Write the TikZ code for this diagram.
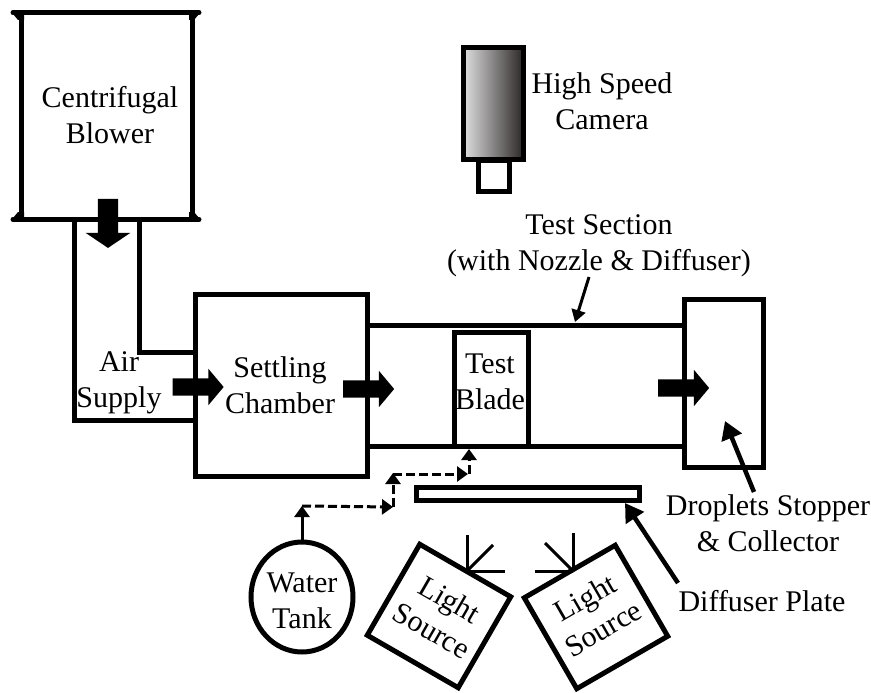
\documentclass[tikz,border=0pt]{standalone}
\usepackage{fontspec}
\setmainfont{Liberation Serif}
\usepackage{xcolor}
\definecolor{Col1}{RGB}{0,0,0}
\definecolor{Col2}{RGB}{225,225,225}
\definecolor{Col3}{RGB}{45,40,40}
\usetikzlibrary{shapes}
\usetikzlibrary{shapes.arrows}
\usetikzlibrary{arrows.meta}
\tikzstyle{Box}=[rectangle,draw=Col1,line width=5pt,outer sep=0pt,inner sep=0pt]
\tikzstyle{Lamp}=[Box,minimum width=105pt,minimum height=105pt]
\tikzstyle{Edge}=[draw=Col1,line width=5pt,line cap=round,line join=miter]
\tikzstyle{Flow}=[draw=Col1,line width=3pt,dash pattern=on 9pt off 4pt,
-{Triangle[length=11pt,width=15pt]}]
\tikzstyle{Feed}=[draw=Col1,line width=3pt,-{Triangle[length=11pt,width=15pt]}]
\tikzstyle{Ray}=[draw=Col1,line width=3pt]
\tikzstyle{Pointer}=[draw=Col1,line width=4.5pt,-{Triangle[length=18pt,width=21pt]}]
\tikzstyle{Block}=[single arrow,fill=Col1,inner xsep=0pt,inner ysep=8.5pt,outer sep=0pt,
single arrow head extend=9.5pt,single arrow tip angle=100,minimum width=36pt,minimum height=51pt]
\tikzstyle{NodeST}=[font=\fontsize{30}{36}\selectfont,align=center,inner sep=0pt,text=Col1]

\begin{document}
\begin{tikzpicture}[x=1pt,y=1pt]
        \useasboundingbox(0,0)rectangle(871,-693);
        \node[Box,minimum width=171pt,minimum height=207pt](Blower)at(106.5,-116){};
        \node[Box,minimum width=172pt,minimum height=182pt](Chamber)at(281,-385.5){};
        \node[Box,minimum width=74pt,minimum height=114pt](BladeBox)at(491,-389){};
        \node[Box,minimum width=79pt,minimum height=168pt](Collector)at(723.5,-383){};
        \node[Box,minimum width=223pt,minimum height=13pt](Plate)at(527.5,-493.5){};
        \node[Box,minimum width=60pt,minimum height=111pt,left color=Col2,right color=Col3](Camera)at(493,-103.5){};
        \node[Box,minimum width=31pt,minimum height=31pt,anchor=north](Lens)at(493.5,-160){};
        \node[Box,ellipse,minimum width=102pt,minimum height=110pt](Tank)at(302,-597){};
        \node[Lamp,rotate=-30](LampA)at(439,-616){};
        \node[Lamp,rotate=30](LampB)at(596,-617){};
        \coordinate(BarTopA)at(13,-12.5);
        \coordinate(BarTopB)at(199,-12.5);
        \coordinate(BarBotA)at(13,-219.5);
        \coordinate(BarBotB)at(199,-219.5);
        \draw[Edge](BarTopA)--(BarTopB);
        \draw[Edge](BarBotA)--(BarBotB);
        \fill[Col1](13,-14)--(24,-14)--(24,-20)--(18,-20)--cycle;
        \fill[Col1](199,-14)--(189,-14)--(189,-20)--(194,-20)--cycle;
        \fill[Col1](13,-218)--(24,-218)--(24,-212)--(18,-212)--cycle;
        \fill[Col1](199,-218)--(189,-218)--(189,-212)--(194,-212)--cycle;
        \coordinate(DuctA)at(74,-219.5);
        \coordinate(DuctB)at(74,-420);
        \coordinate(DuctC)at(195,-420);
        \coordinate(DuctD)at(139,-219.5);
        \coordinate(DuctE)at(139,-352);
        \coordinate(DuctF)at(195,-352);
        \draw[Edge,line cap=butt](DuctA)--(DuctB)--(DuctC);
        \draw[Edge,line cap=butt](DuctD)--(DuctE)--(DuctF);
        \coordinate(TopA)at(367,-325);
        \coordinate(TopB)at(684,-325);
        \coordinate(BotA)at(367,-446);
        \coordinate(BotB)at(684,-446);
        \draw[Edge,line cap=butt](TopA)--(TopB);
        \draw[Edge,line cap=butt](BotA)--(BotB);
        \node[Block,rotate=-90,inner ysep=10pt,minimum width=44pt,minimum height=49pt,
        single arrow head extend=12pt,single arrow tip angle=112](ArrowDown)at(108,-220){};
        \node[Block](ArrowAir)at(194.5,-387){};
        \node[Block](ArrowChamber)at(365,-389){};
        \node[Block](ArrowOut)at(680,-388){};
        \coordinate(TankUp)at(302,-506);
        \coordinate(StepA)at(393,-507);
        \coordinate(StepB)at(393,-473);
        \coordinate(StepC)at(393,-474);
        \coordinate(StepD)at(468,-474);
        \coordinate(StepE)at(469,-474);
        \coordinate(StepF)at(469,-449);
        \draw[Feed](Tank.north)--(TankUp);
        \draw[Flow](TankUp)--(StepA);
        \draw[Flow](StepA)--(StepB);
        \draw[Flow](StepC)--(StepD);
        \draw[Flow](StepE)--(StepF);
        \coordinate(RayA0)at(467,-571);
        \coordinate(RayA1)at(467,-535);
        \coordinate(RayA2)at(493,-545);
        \coordinate(RayA3)at(505,-571);
        \coordinate(RayB0)at(573,-571);
        \coordinate(RayB1)at(573,-533);
        \coordinate(RayB2)at(545,-543);
        \coordinate(RayB3)at(535,-571);
        \draw[Ray](RayA0)--(RayA1);
        \draw[Ray](RayA0)--(RayA2);
        \draw[Ray](RayA0)--(RayA3);
        \draw[Ray](RayB0)--(RayB1);
        \draw[Ray](RayB0)--(RayB2);
        \draw[Ray](RayB0)--(RayB3);
        \coordinate(TailSection)at(589,-277);
        \coordinate(TipSection)at(575,-322);
        \draw[draw=Col1,line width=3pt,-{Triangle[length=12pt,width=14pt]}](TailSection)--(TipSection);
        \coordinate(TailCollector)at(754,-492);
        \coordinate(TipCollector)at(725,-421);
        \draw[Pointer](TailCollector)--(TipCollector);
        \coordinate(TailPlate)at(678,-583);
        \coordinate(TipPlate)at(625,-503);
        \draw[Pointer](TailPlate)--(TipPlate);
        \node[NodeST](Txt1)at(110,-115){Centrifugal\\Blower};
        \node[NodeST](Txt2)at(602,-101){High Speed\\Camera};
        \node[NodeST](Txt3)at(599,-246){Test Section\\(with Nozzle \& Diffuser)};
        \node[NodeST](Txt4)at(119,-383){Air\\Supply};
        \node[NodeST](Txt5)at(280,-385){Settling\\Chamber};
        \node[NodeST](Txt6)at(490,-382){Test\\Blade};
        \node[NodeST](Txt7)at(768,-523){Droplets Stopper\\\& Collector};
        \node[NodeST](Txt8)at(762,-601){Diffuser Plate};
        \node[NodeST](Txt9)at(302,-601){Water\\Tank};
        \node[NodeST,rotate=-30](Txt10)at(441,-615){Light\\Source};
        \node[NodeST,rotate=30](Txt11)at(594,-613){Light\\Source};
    \end{tikzpicture}
\end{document}
